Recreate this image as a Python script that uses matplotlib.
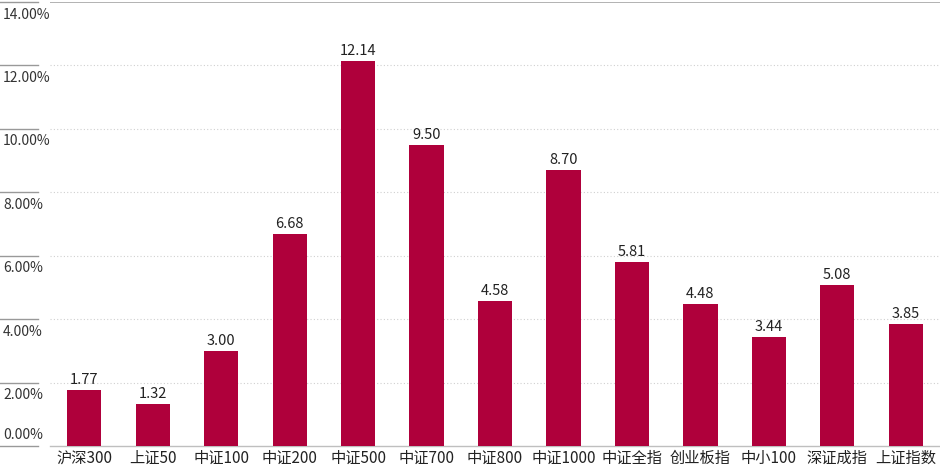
import matplotlib
matplotlib.use("Agg")
import matplotlib.pyplot as plt
from matplotlib.lines import Line2D
from matplotlib.transforms import blended_transform_factory

plt.rcParams['font.family'] = ['Noto Sans CJK SC', 'DejaVu Sans']
NARROW = ['Liberation Sans Narrow', 'Noto Sans CJK SC', 'DejaVu Sans']

categories = ["沪深300", "上证50", "中证100", "中证200", "中证500", "中证700", "中证800",
              "中证1000", "中证全指", "创业板指", "中小100", "深证成指", "上证指数"]
values = [1.77, 1.32, 3.00, 6.68, 12.14, 9.50, 4.58, 8.70, 5.81, 4.48, 3.44, 5.08, 3.85]
yticks = [0, 2, 4, 6, 8, 10, 12, 14]
ytick_labels = ["0.00%", "2.00%", "4.00%", "6.00%", "8.00%", "10.00%", "12.00%", "14.00%"]

bar_color = "#AF003B"

fig = plt.figure(figsize=(9.4, 4.7), dpi=100)
ax = fig.add_axes([50 / 940, 24 / 470, 890 / 940, 444 / 470])

x = list(range(len(categories)))
ax.bar(x, values, width=0.5, color=bar_color, zorder=3)

ax.set_xlim(-0.5, len(categories) - 0.5)
ax.set_ylim(0, 14)

for s in ["left", "right", "top"]:
    ax.spines[s].set_visible(False)
ax.spines["bottom"].set_color("#BFBFBF")
ax.spines["bottom"].set_linewidth(1.0)

# gridlines
for t in yticks[1:-1]:
    ax.axhline(t, color="#D0D0D0", linewidth=0.8, linestyle=(0, (1, 2)), zorder=1)
ax.axhline(14, color="#A6A6A6", linewidth=1.2, zorder=1)

ax.set_yticks([])
ax.set_xticks(x)
ax.set_xticklabels(categories, fontsize=11, color="#222222")
ax.tick_params(axis="x", length=0, pad=3)

# left-side tick labels with short lines
trans = blended_transform_factory(fig.transFigure, ax.transData)
for t, lab in zip(yticks, ytick_labels):
    ln = Line2D([0, 38 / 940], [t, t], transform=trans, color="#999999",
                linewidth=1.0, clip_on=False)
    ax.add_line(ln)
    dy = 3 if t == 0 else -4
    va = "bottom" if t == 0 else "top"
    ax.annotate(lab, xy=(3 / 940, t), xycoords=trans, xytext=(0, dy),
                textcoords="offset points", ha="left", va=va, family=NARROW,
                fontsize=10, color="#333333", annotation_clip=False)

for xi, v in zip(x, values):
    ax.annotate(f"{v:.2f}", xy=(xi, v), xytext=(0, 2), textcoords="offset points",
                ha="center", va="bottom", fontsize=10.5, color="#222222", family=NARROW)

fig.savefig("out.png", dpi=100)
